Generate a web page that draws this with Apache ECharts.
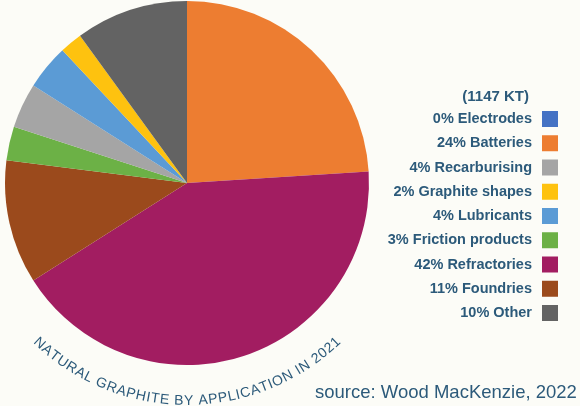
<!DOCTYPE html>
<html>
<head>
<meta charset="utf-8">
<script src="https://cdn.jsdelivr.net/npm/echarts@6/dist/echarts.min.js"></script>
<style>
  html, body { margin: 0; padding: 0; background: #fcfcf7; }
  #chart { width: 580px; height: 406px; }
</style>
</head>
<body>
<div id="chart"></div>
<script>
// Natural graphite demand by application, 2021 (share of 1147 kt)
const applications = ['Electrodes', 'Batteries', 'Refractories', 'Foundries', 'Friction products',
                      'Recarburising', 'Lubricants', 'Graphite shapes', 'Other'];
const shares = [0, 24, 42, 11, 3, 4, 4, 2, 10];
const sliceColors = ['#4472c4', '#ed7d31', '#a21d61', '#9b4a1c', '#6cb146',
                     '#a5a5a5', '#5b9bd5', '#fec20f', '#636363'];
const legendOrder = ['Electrodes', 'Batteries', 'Recarburising', 'Graphite shapes', 'Lubricants',
                     'Friction products', 'Refractories', 'Foundries', 'Other'];
const totalLabel = '(1147 KT)';
const arcTitle = 'NATURAL GRAPHITE BY APPLICATION IN 2021';
const sourceNote = 'source: Wood MacKenzie, 2022';

const TEXT_COLOR = '#2c5a7a';
const FONT = '"Liberation Sans", Arial, sans-serif';

const chart = echarts.init(document.getElementById('chart'), null, { renderer: 'canvas' });

const pieCenter = [187, 183];
const pieRadius = 182;

// Lay the title out letter by letter along an arc under the pie
function arcLetters(text, cx, cy, r, spanDeg, fontSize, weight) {
  const ctx = document.createElement('canvas').getContext('2d');
  ctx.font = weight + ' ' + fontSize + 'px ' + FONT;
  const chars = Array.from(text);
  const widths = chars.map(ch => ctx.measureText(ch).width);
  const natural = widths.reduce((a, b) => a + b, 0);
  const arcLen = spanDeg * Math.PI / 180 * r;
  const extra = (arcLen - natural) / (chars.length - 1);
  const items = [];
  let s = -arcLen / 2;
  chars.forEach((ch, i) => {
    const mid = s + widths[i] / 2;
    const phi = -mid / r; // positive on the left side
    items.push({
      type: 'text',
      x: cx - r * Math.sin(phi),
      y: cy + r * Math.cos(phi),
      rotation: -phi,
      silent: true,
      style: {
        text: ch,
        fill: TEXT_COLOR,
        font: weight + ' ' + fontSize + 'px ' + FONT,
        align: 'center',
        verticalAlign: 'middle'
      }
    });
    s += widths[i] + extra;
  });
  return items;
}

const shareByName = {};
applications.forEach((n, i) => { shareByName[n] = shares[i]; });

const option = {
  backgroundColor: '#fcfcf7',
  animation: false,
  title: {
    text: totalLabel,
    right: 51,
    top: 89,
    padding: 0,
    textStyle: { color: TEXT_COLOR, fontFamily: FONT, fontSize: 15, fontWeight: 'bold' }
  },
  legend: {
    orient: 'vertical',
    right: 22,
    top: 111,
    padding: 0,
    align: 'right',
    icon: 'rect',
    itemWidth: 16,
    itemHeight: 16,
    itemGap: 8.25,
    selectedMode: false,
    data: legendOrder,
    formatter: name => shareByName[name] + '% ' + name,
    textStyle: {
      color: TEXT_COLOR, fontFamily: FONT, fontSize: 14.5, fontWeight: 'bold',
      padding: [0, 5, 0, 0]
    }
  },
  series: [{
    type: 'pie',
    center: pieCenter,
    radius: pieRadius,
    startAngle: 90,
    clockwise: true,
    label: { show: false },
    labelLine: { show: false },
    emphasis: { disabled: true },
    itemStyle: { borderWidth: 0 },
    data: applications.map((n, i) => ({
      name: n, value: shares[i], itemStyle: { color: sliceColors[i] }
    }))
  }],
  graphic: [
    ...arcLetters(arcTitle, pieCenter[0], pieCenter[1], 218, 88, 14, 'normal'),
    {
      type: 'text',
      left: 315,
      top: 383,
      silent: true,
      style: {
        text: sourceNote,
        fill: TEXT_COLOR,
        font: '18.5px ' + FONT
      }
    }
  ]
};

chart.setOption(option);
</script>
</body>
</html>
